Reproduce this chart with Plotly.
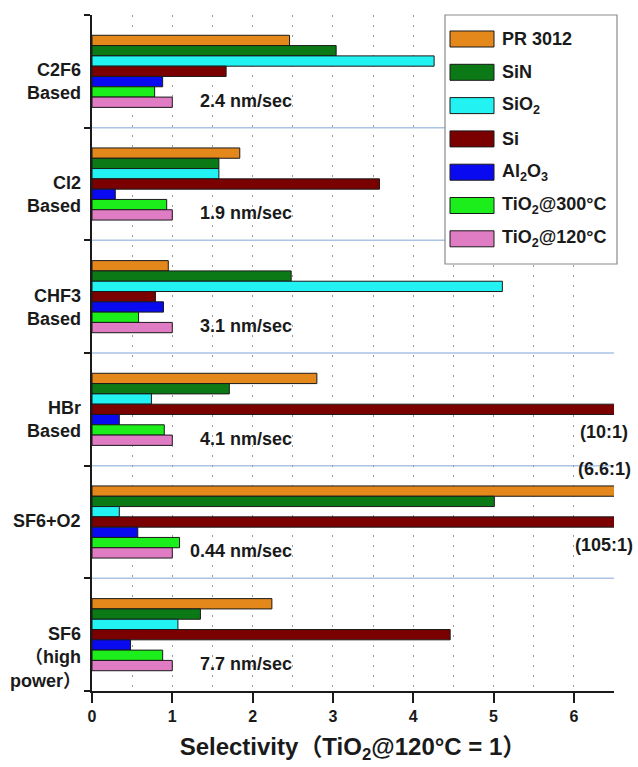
import plotly.graph_objects as go

# ---- data -------------------------------------------------------------
categories = [
    "C2F6<br>Based",
    "Cl2<br>Based",
    "CHF3<br>Based",
    "HBr<br>Based",
    "SF6+O2",
    "SF6<br>（high<br>power）",
]
etch_rates = ["2.4 nm/sec", "1.9 nm/sec", "3.1 nm/sec", "4.1 nm/sec", "0.44 nm/sec", "7.7 nm/sec"]

series_names = [
    "PR 3012",
    "SiN",
    "SiO<sub>2</sub>",
    "Si",
    "Al<sub>2</sub>O<sub>3</sub>",
    "TiO<sub>2</sub>@300°C",
    "TiO<sub>2</sub>@120°C",
]
series_colors = ["#E4881C", "#0B7A16", "#22F2F2", "#7B0000", "#0A0AF0", "#1CEE1C", "#E07CC4"]

pr3012 = [2.46, 1.84, 0.95, 2.80, 6.6, 2.24]
sin = [3.04, 1.58, 2.48, 1.71, 5.01, 1.35]
sio2 = [4.26, 1.58, 5.11, 0.74, 0.34, 1.07]
si = [1.67, 3.58, 0.79, 10, 105, 4.46]
al2o3 = [0.88, 0.29, 0.89, 0.34, 0.57, 0.48]
tio2_300 = [0.78, 0.93, 0.58, 0.90, 1.09, 0.88]
tio2_120 = [1, 1, 1, 1, 1, 1]

x_ticks = [0, 1, 2, 3, 4, 5, 6]

series_values = [pr3012, sin, sio2, si, al2o3, tio2_300, tio2_120]

# ---- layout constants -------------------------------------------------
W, H = 638, 767
ML, MR, MT, MB = 92, 24, 15, 76
XMAX = 6.5
BARGAP = 0.36
FONT = "Liberation Sans, Arial, Noto Sans CJK SC, sans-serif"
INK = "#1a1a1a"
GRID = "#9a9a9a"
SEP = "#a9c4e4"

PW = W - ML - MR
PH = H - MT - MB


def px_x(px):
    return (px - ML) / PW


def px_y(py):
    return 1 - (py - MT) / PH


n_cat = len(categories)
n_ser = len(series_values)
ypos = list(range(n_cat))
bar_w = (1 - BARGAP) / n_ser

fig = go.Figure()

for name, color, vals in zip(series_names, series_colors, series_values):
    fig.add_trace(go.Bar(
        x=vals,
        y=ypos,
        orientation="h",
        name=name,
        marker=dict(color=color, line=dict(color=INK, width=1)),
        showlegend=False,
    ))

shapes = []
annotations = []

# light-blue separators between gas-chemistry groups
for i in range(n_cat - 1):
    b = i + 0.5
    shapes.append(dict(type="line", xref="x", yref="y", x0=0, x1=XMAX, y0=b, y1=b,
                       line=dict(color=SEP, width=1.5), layer="below"))

# group labels on the left
for i, lab in enumerate(categories):
    annotations.append(dict(
        x=0, y=i, xref="x", yref="y", xanchor="right", yanchor="top",
        xshift=-9, yshift=13, align="right", showarrow=False, text=lab,
        font=dict(family=FONT, size=18, color=INK, weight="bold"),
    ))

# etch rate of the reference film in each chemistry
for i, rate in enumerate(etch_rates):
    annotations.append(dict(
        x=2.52, y=i + 0.26, xref="x", yref="y", xanchor="right", yanchor="middle",
        showarrow=False, text=rate,
        font=dict(family=FONT, size=18, color=INK, weight="bold"),
    ))

# ratios for bars running past the axis limit
for k, vals in enumerate(series_values):
    for i, v in enumerate(vals):
        if v > XMAX:
            bar_center = i + (k - (n_ser - 1) / 2) * bar_w
            off = -0.2 if k == 0 else 0.2
            annotations.append(dict(
                x=6.38, y=bar_center + off, xref="x", yref="y",
                xanchor="center", yanchor="middle", showarrow=False,
                text=f"({v:g}:1)",
                font=dict(family=FONT, size=18, color=INK, weight="bold"),
            ))

# legend box drawn with rectangles
LX0, LX1, LY0, LY1 = 445, 617, 15, 264
shapes.append(dict(type="rect", xref="paper", yref="paper",
                   x0=px_x(LX0), x1=px_x(LX1), y0=px_y(LY1), y1=px_y(LY0),
                   fillcolor="white", line=dict(color="#8a8a8a", width=1.2), layer="above"))
row0, row_step = 39, 33.3
for k, (name, color) in enumerate(zip(series_names, series_colors)):
    cy = row0 + k * row_step
    shapes.append(dict(type="rect", xref="paper", yref="paper",
                       x0=px_x(450), x1=px_x(494), y0=px_y(cy + 8), y1=px_y(cy - 8),
                       fillcolor=color, line=dict(color=INK, width=1), layer="above"))
    annotations.append(dict(
        x=px_x(500), y=px_y(cy), xref="paper", yref="paper",
        xanchor="left", yanchor="middle", showarrow=False, text=name,
        font=dict(family=FONT, size=18, color=INK, weight="bold"),
    ))

bounds = [i - 0.5 for i in range(n_cat + 1)]

fig.update_layout(
    width=W, height=H,
    margin=dict(l=ML, r=MR, t=MT, b=MB, pad=0),
    paper_bgcolor="white", plot_bgcolor="white",
    barmode="group", bargap=BARGAP, bargroupgap=0,
    showlegend=False,
    font=dict(family=FONT, color=INK),
    shapes=shapes,
    annotations=annotations,
    xaxis=dict(
        range=[0, XMAX], tickmode="array", tickvals=x_ticks,
        ticks="outside", ticklen=10, tickwidth=2, tickcolor=INK,
        showline=True, linewidth=2, linecolor=INK, zeroline=False,
        showgrid=True, gridcolor=GRID, gridwidth=1, griddash="2px,8px",
        minor=dict(tickmode="linear", tick0=0, dtick=0.5, showgrid=True,
                   gridcolor=GRID, gridwidth=1, griddash="2px,8px", ticks=""),
        tickfont=dict(family=FONT, size=16, color=INK, weight="bold"),
        title=dict(text="Selectivity（TiO<sub>2</sub>@120°C = 1）", standoff=14,
                   font=dict(family=FONT, size=24, color=INK, weight="bold")),
    ),
    yaxis=dict(
        range=[n_cat - 0.5, -0.5], tickmode="array", tickvals=bounds,
        ticks="outside", ticklen=6, tickwidth=2, tickcolor=INK,
        showticklabels=False, showgrid=False, zeroline=False,
        showline=True, linewidth=2, linecolor=INK,
    ),
    yaxis2=dict(
        overlaying="y", anchor="x", side="left",
        range=[n_cat - 0.5, -0.5], tickmode="array", tickvals=bounds,
        ticks="inside", ticklen=6, tickwidth=2, tickcolor=INK,
        showticklabels=False, showgrid=False, zeroline=False, showline=False,
    ),
)

fig.write_html("out.html")
